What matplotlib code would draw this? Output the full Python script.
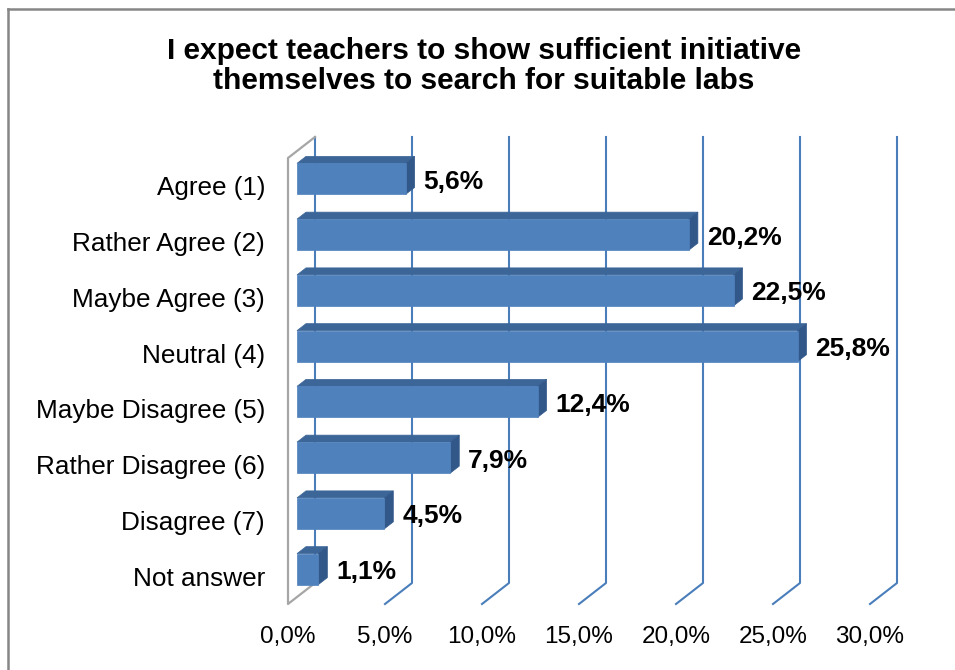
#!/usr/bin/env python3
"""Recreate the 3D-style survey bar chart about teachers searching for labs."""

from __future__ import annotations

import matplotlib

matplotlib.use("Agg")
import matplotlib.pyplot as plt
from matplotlib.lines import Line2D
from matplotlib.patches import Polygon

TITLE = "I expect teachers to show sufficient initiative\nthemselves to search for suitable labs"
CATEGORIES = [
    "Agree (1)",
    "Rather Agree (2)",
    "Maybe Agree (3)",
    "Neutral (4)",
    "Maybe Disagree (5)",
    "Rather Disagree (6)",
    "Disagree (7)",
    "Not answer",
]
SHARES = [5.6, 20.2, 22.5, 25.8, 12.4, 7.9, 4.5, 1.1]
X_TICKS = [0, 5, 10, 15, 20, 25, 30]

FRONT = "#4F81BD"
TOP = "#3D6698"
SIDE = "#32588A"
GRID = "#4A7EBB"
WALL = "#A6A6A6"

W, H = 955, 670


def pct(value: float) -> str:
    return f"{value:.1f}%".replace(".", ",")


def plot_chart(output_path: str) -> None:
    plt.rcParams["font.family"] = ["Liberation Sans", "DejaVu Sans"]
    fig = plt.figure(figsize=(W / 100, H / 100), dpi=100)

    # front plane of the 3D box, in pixels
    left, right, top, bottom = 288, 870, 158, 604
    ax = fig.add_axes([left / W, (H - bottom) / H, (right - left) / W, (bottom - top) / H])
    ax.set_xlim(0, 30)
    ax.set_ylim(len(CATEGORIES) - 0.5, -0.5)
    for spine in ax.spines.values():
        spine.set_visible(False)

    # depth of the box in data units (27 px right, 21 px up)
    px_x = (right - left) / 30
    px_y = (bottom - top) / len(CATEGORIES)
    dx = 27 / px_x
    dy = -21 / px_y
    y0, y1 = -0.5, len(CATEGORIES) - 0.5

    # gridlines: back wall vertical + floor diagonal
    for t in X_TICKS:
        xs = [t + dx, t + dx]
        ys = [y0 + dy, y1 + dy]
        if t > 0:
            xs.append(t)
            ys.append(y1)
        ax.add_line(Line2D(xs, ys, color=GRID, lw=1.5, zorder=1, clip_on=False))

    # left side wall outline
    ax.add_line(Line2D([dx, 0, 0, dx], [y0 + dy, y0, y1, y1 + dy],
                       color=WALL, lw=1.6, zorder=2, clip_on=False))

    # bars: front face sits a third of the way into the box
    half = 15.5 / px_y
    bx, by = dx / 3, dy / 3
    for i, value in enumerate(SHARES):
        yc = i + by
        x0, x1 = bx, value + bx
        ya, yb = yc - half, yc + half
        front = [(x0, ya), (x1, ya), (x1, yb), (x0, yb)]
        top_face = [(x0, ya), (x1, ya), (x1 + bx, ya + by), (x0 + bx, ya + by)]
        side = [(x1, ya), (x1, yb), (x1 + bx, yb + by), (x1 + bx, ya + by)]
        for poly, color in [(top_face, TOP), (side, SIDE), (front, FRONT)]:
            ax.add_patch(Polygon(poly, closed=True, facecolor=color, edgecolor=color,
                                 lw=0.5, zorder=3, clip_on=False))
        ax.text(x1 + bx + 9 / px_x, yc + 3 / px_y, pct(value), ha="left", va="center",
                fontsize=19, fontweight="bold", color="black", zorder=4)

    ax.set_xticks(X_TICKS)
    ax.set_xticklabels([pct(t) for t in X_TICKS])
    ax.set_yticks(range(len(CATEGORIES)))
    ax.set_yticklabels(CATEGORIES)
    ax.tick_params(axis="x", length=0, pad=16, labelsize=17.5)
    ax.tick_params(axis="y", length=0, pad=16.5, labelsize=18.8)

    fig.text(484 / W, 1 - 66 / H, TITLE, ha="center", va="center",
             fontsize=21.5, fontweight="bold", linespacing=1.08)

    # chart area border (left and top edges only are visible)
    fig.add_artist(Line2D([7.5 / W, 7.5 / W], [0, 1 - 8.5 / H], color="#868686", lw=1.8))
    fig.add_artist(Line2D([7.5 / W, 1], [1 - 8.5 / H, 1 - 8.5 / H], color="#868686", lw=1.8))

    fig.savefig(output_path, dpi=100)
    plt.close(fig)


def main() -> int:
    plot_chart("out.png")
    return 0


if __name__ == "__main__":
    raise SystemExit(main())
